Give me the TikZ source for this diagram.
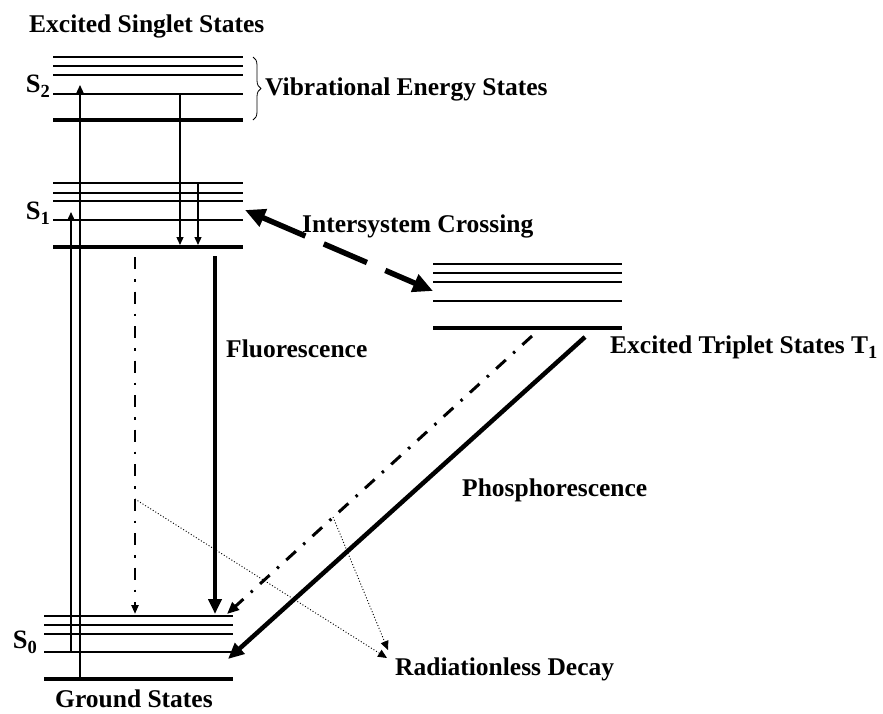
\documentclass[tikz,border=0pt]{standalone}
\usepackage{fontspec}
\setmainfont{Liberation Serif}
\usetikzlibrary{arrows.meta}
\usetikzlibrary{decorations.pathreplacing}
\newcommand{\lvlsub}[1]{\raisebox{-5.5pt}{\fontsize{18.5}{18.5}\selectfont #1}}

\begin{document}
\begin{tikzpicture}[x=1pt,y=-1pt,line join=round,
  font=\fontsize{25.5}{30}\selectfont\bfseries,
  lbl/.style={anchor=base west,inner sep=0pt},
  slbl/.style={anchor=base east,inner sep=0pt,font=\fontsize{26.5}{30}\selectfont\bfseries},
  level/.style={line width=2.4pt},
  baselevel/.style={line width=4.4pt},
  thinarrow/.style={line width=1.3pt,-{Triangle[length=8pt,width=7pt]}},
  dashdot/.style={dash pattern=on 12pt off 10pt on 2.5pt off 10pt},
  dotarrow/.style={line width=0.9pt,dash pattern=on 1pt off 2pt,-{Triangle[length=9pt,width=8pt]}}]
\useasboundingbox (0,0) rectangle (883,713);
% singlet S2
\draw [level] (53,57)--(243,57) (53,66)--(243,66) (53,75)--(243,75) (53,94)--(243,94);
\draw [baselevel] (53,120)--(243,120);
% singlet S1
\draw [level] (53,183)--(243,183) (53,193)--(243,193) (53,201)--(243,201) (53,220)--(243,220);
\draw [baselevel] (53,247)--(243,247);
% ground S0
\draw [level] (44,616)--(233,616) (44,625)--(233,625) (44,634)--(233,634) (44,652)--(233,652);
\draw [baselevel] (44,679)--(233,679);
% triplet T1
\draw [level] (433,264)--(622,264) (433,273)--(622,273) (433,282)--(622,282) (433,301)--(622,301);
\draw [baselevel] (433,328)--(622,328);
\draw [decorate,decoration={brace,amplitude=8pt},line width=0.8pt] (253,57)--(253,120);

\coordinate (absTwoA) at (80,679);
\coordinate (absTwoB) at (80,85);
\coordinate (absOneA) at (71,652);
\coordinate (absOneB) at (71,212);
\coordinate (icA) at (180,94);
\coordinate (icB) at (180,245);
\coordinate (icC) at (198,183);
\coordinate (icD) at (198,245);
\coordinate (nrSA) at (135,257);
\coordinate (nrSB) at (135,614);
\coordinate (flA) at (215,256);
\coordinate (flB) at (215,614);
\coordinate (iscA) at (245,210);
\coordinate (iscB) at (433,291);
\coordinate (nrTA) at (532,336);
\coordinate (nrTB) at (227,614);
\coordinate (phA) at (585,337);
\coordinate (phB) at (228,659);
\coordinate (rdA) at (135,499);
\coordinate (rdB) at (387,658);
\coordinate (rdC) at (333,517);
\coordinate (rdD) at (388,650);

\draw [thinarrow] (absTwoA)--(absTwoB);
\draw [thinarrow] (absOneA)--(absOneB);
\draw [thinarrow] (icA)--(icB);
\draw [thinarrow] (icC)--(icD);
\draw [line width=2.2pt,dashdot,-{Triangle[length=9pt,width=7pt]}] (nrSA)--(nrSB);
\draw [line width=4pt,-{Triangle[length=15pt,width=13pt]}] (flA)--(flB);
\draw [line width=5.5pt,dash pattern=on 47pt off 20pt,{Triangle[length=20pt,width=18pt]}-{Triangle[length=20pt,width=18pt]}] (iscA)--(iscB);
\draw [line width=3pt,dash pattern=on 13pt off 10pt on 2.5pt off 10pt,-{Triangle[length=12pt,width=10pt]}] (nrTA)--(nrTB);
\draw [line width=4.5pt,-{Triangle[length=16pt,width=14pt]}] (phA)--(phB);
\draw [dotarrow] (rdA)--(rdB);
\draw [dotarrow] (rdC)--(rdD);

\node [lbl] (singlet) at (29,32) {Excited Singlet States};
\node [lbl] (vib) at (265,95) {Vibrational Energy States};
\node [lbl] (isc) at (302,232) {Intersystem Crossing};
\node [lbl] (fluor) at (226,357) {Fluorescence};
\node [lbl] (triplet) at (610,353) {Excited Triplet States T\lvlsub{1}};
\node [lbl] (phos) at (462,496) {Phosphorescence};
\node [lbl] (decay) at (395,675) {Radiationless Decay};
\node [lbl] (ground) at (55,707) {Ground States};
\node [slbl] (stwo) at (50,92) {S\lvlsub{2}};
\node [slbl] (sone) at (50,219) {S\lvlsub{1}};
\node [slbl] (szero) at (37,648) {S\lvlsub{0}};
\end{tikzpicture}
\end{document}
